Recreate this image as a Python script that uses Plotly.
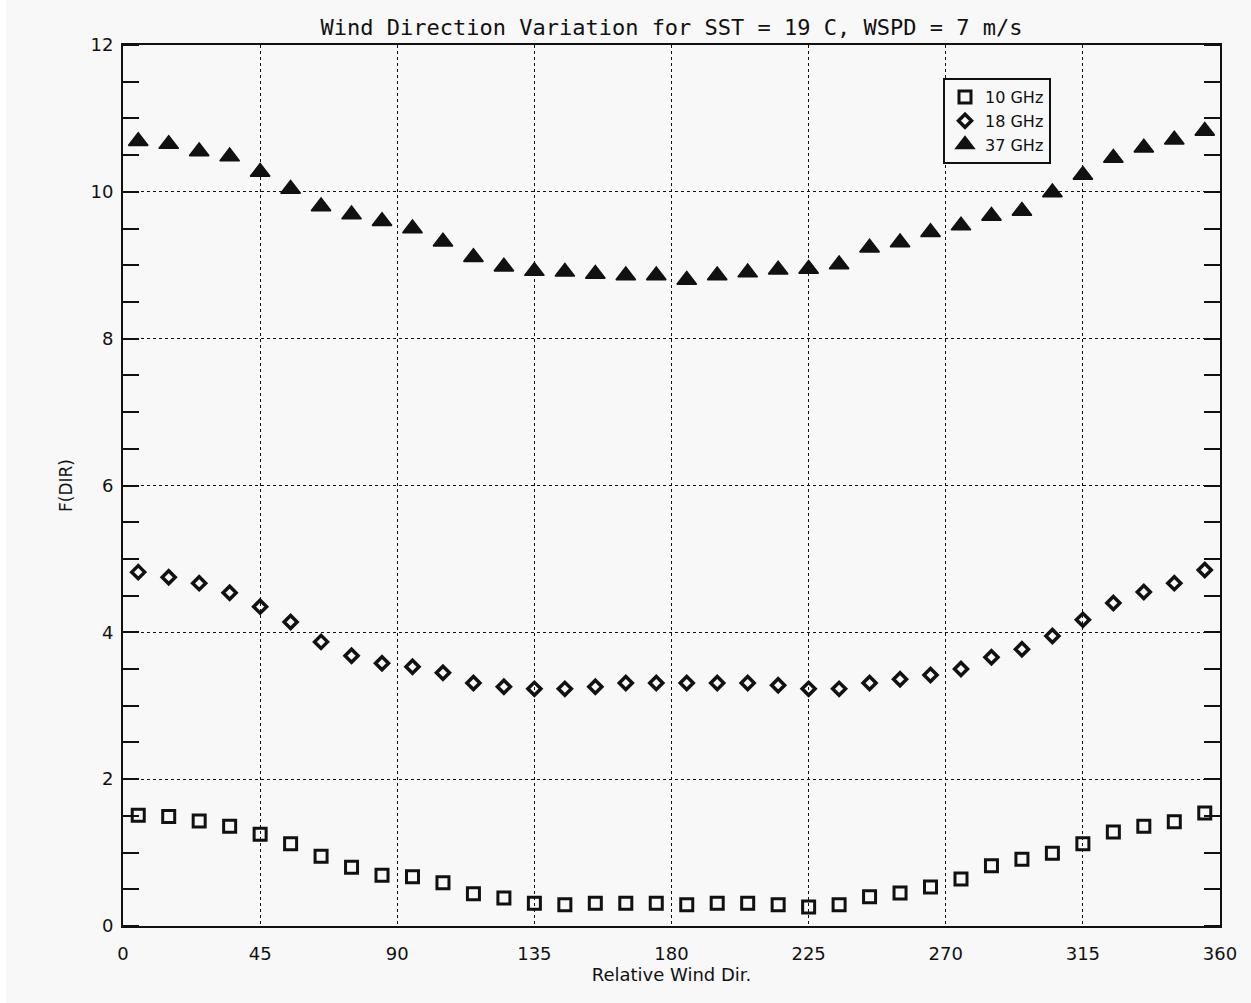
import plotly.graph_objects as go

# Relative wind direction (deg) at which F(DIR) was evaluated
wind_dir = [5, 15, 25, 35, 45, 55, 65, 75, 85, 95, 105, 115, 125, 135, 145, 155, 165, 175,
            185, 195, 205, 215, 225, 235, 245, 255, 265, 275, 285, 295, 305, 315, 325, 335, 345, 355]

f_10ghz = [1.51, 1.49, 1.43, 1.36, 1.25, 1.12, 0.95, 0.80, 0.69, 0.67, 0.59, 0.44, 0.38, 0.31,
           0.29, 0.31, 0.31, 0.31, 0.29, 0.31, 0.31, 0.29, 0.26, 0.29, 0.40, 0.45, 0.53, 0.64,
           0.82, 0.91, 0.99, 1.12, 1.28, 1.36, 1.42, 1.54]

f_18ghz = [4.82, 4.75, 4.67, 4.54, 4.35, 4.14, 3.87, 3.68, 3.58, 3.53, 3.45, 3.31, 3.26, 3.23,
           3.23, 3.26, 3.31, 3.31, 3.31, 3.31, 3.31, 3.28, 3.23, 3.23, 3.31, 3.36, 3.42, 3.50,
           3.66, 3.77, 3.95, 4.17, 4.40, 4.55, 4.67, 4.85]

f_37ghz = [10.69, 10.65, 10.55, 10.48, 10.27, 10.04, 9.80, 9.69, 9.60, 9.50, 9.32, 9.11, 8.98,
           8.92, 8.91, 8.88, 8.86, 8.86, 8.80, 8.86, 8.90, 8.94, 8.95, 9.01, 9.24, 9.31, 9.45,
           9.54, 9.67, 9.74, 9.99, 10.23, 10.46, 10.60, 10.71, 10.83]

x_ticks = [0, 45, 90, 135, 180, 225, 270, 315, 360]
y_ticks = [0, 2, 4, 6, 8, 10, 12]

INK = "#111111"
BG = "#f8f8f8"
FONT = "DejaVu Sans"
MONO = "DejaVu Sans Mono"

fig = go.Figure()
fig.add_trace(go.Scatter(
    x=wind_dir, y=f_10ghz, mode="markers", name="10 GHz",
    marker=dict(symbol="square-open", size=12, color=INK, line=dict(width=3, color=INK)),
))
fig.add_trace(go.Scatter(
    x=wind_dir, y=f_18ghz, mode="markers", name="18 GHz",
    marker=dict(symbol="diamond-open", size=10, color=INK, line=dict(width=3.5, color=INK)),
))
fig.add_trace(go.Scatter(
    x=wind_dir, y=f_37ghz, mode="markers", name="37 GHz",
    marker=dict(symbol="triangle-up", size=17, color=INK, line=dict(width=1.5, color=INK)),
))

W, H = 1251, 1003
ML, MR, MT, MB = 123, 31, 45, 77
PW, PH = W - ML - MR, H - MT - MB

fig.update_layout(
    width=W, height=H,
    margin=dict(l=ML, r=MR, t=MT, b=MB, pad=0),
    paper_bgcolor=BG, plot_bgcolor=BG,
    font=dict(family=FONT, size=17, color=INK),
    title=dict(
        text="Wind Direction Variation for SST = 19 C, WSPD = 7 m/s",
        x=0.5, xref="paper", xanchor="center",
        y=1 - 27 / H, yref="container", yanchor="middle",
        font=dict(family=MONO, size=22, color=INK),
    ),
    showlegend=True,
    legend=dict(
        x=(943 - ML) / PW, y=(H - MB - 78) / PH, xanchor="left", yanchor="top",
        bgcolor=BG, bordercolor=INK, borderwidth=2,
        font=dict(family=FONT, size=16, color=INK),
        itemwidth=30, tracegroupgap=0,
    ),
    shapes=[
        # thin white band along the top and left edges of the page
        dict(type="rect", xref="paper", yref="paper", layer="below",
             x0=-ML / PW, x1=(W - ML) / PW, y0=(H - MT - 6) / PH, y1=(H - MT) / PH + 0.01,
             fillcolor="white", line=dict(width=0)),
        dict(type="rect", xref="paper", yref="paper", layer="below",
             x0=-ML / PW - 0.01, x1=(6 - ML) / PW, y0=-MB / PH - 0.01, y1=(H - MT) / PH + 0.01,
             fillcolor="white", line=dict(width=0)),
    ],
)

fig.update_xaxes(
    range=[0, 360], tickmode="array", tickvals=x_ticks, ticktext=[str(v) for v in x_ticks],
    showline=True, linecolor=INK, linewidth=2, mirror=True,
    ticks="", ticklabelstandoff=10,
    showgrid=True, gridcolor=INK, gridwidth=1, griddash="dot",
    zeroline=False,
    title=dict(text="Relative Wind Dir.", standoff=4, font=dict(family=FONT, size=18, color=INK)),
    tickfont=dict(family=FONT, size=18, color=INK),
)

fig.update_yaxes(
    range=[0, 12], tickmode="array", tickvals=y_ticks, ticktext=[str(v) for v in y_ticks],
    showline=True, linecolor=INK, linewidth=2, mirror="ticks",
    ticks="", ticklabelstandoff=4,
    minor=dict(dtick=0.5, tick0=0, ticks="inside", ticklen=16, tickwidth=2,
               tickcolor=INK, showgrid=False),
    showgrid=True, gridcolor=INK, gridwidth=1, griddash="dot",
    zeroline=False,
    title=dict(text="F(DIR)", standoff=14, font=dict(family=FONT, size=17, color=INK)),
    tickfont=dict(family=FONT, size=18, color=INK),
)

fig.write_html("out.html")
